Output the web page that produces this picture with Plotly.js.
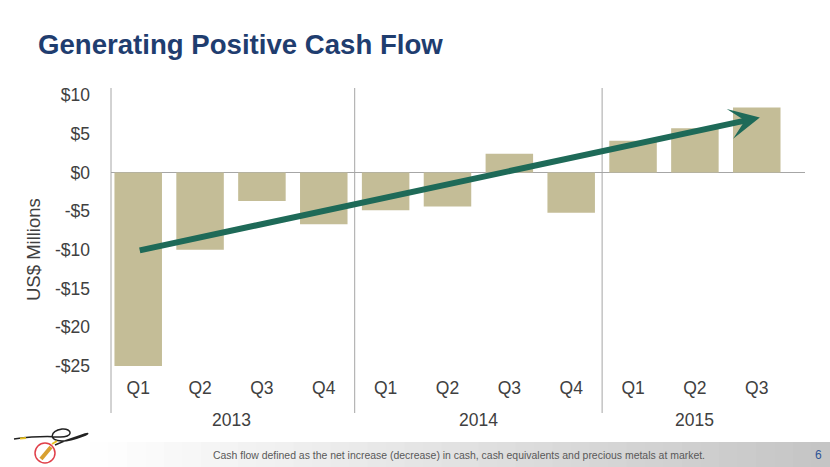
<!DOCTYPE html>
<html>
<head>
<meta charset="utf-8">
<script src="https://cdn.plot.ly/plotly-3.0.1.min.js"></script>
<style>html,body{margin:0;padding:0;background:#fff;}#chart{width:830px;height:467px;}</style>
</head>
<body>
<div id="chart"></div>
<script>
// ---- data ----
const quarters = ['Q1','Q2','Q3','Q4','Q1','Q2','Q3','Q4','Q1','Q2','Q3'];
const cashFlow = [-25.0, -10.0, -3.7, -6.7, -4.9, -4.4, 2.4, -5.2, 4.1, 5.7, 8.4];
const years = ['2013','2014','2015'];
const yearCounts = [4, 4, 3];
const yTickVals = [10, 5, 0, -5, -10, -15, -20, -25];
const yTickText = ['$10','$5','$0','-$5','-$10','-$15','-$20','-$25'];
const trendStart = [0, -10.1];
const trendEnd = [10.05, 7.1];
const titleText = 'Generating Positive Cash Flow';
const yTitle = 'US$ Millions';
const footnote = 'Cash flow defined as the net increase (decrease) in cash, cash equivalents and precious metals at market.';
const pageNum = '6';

// ---- layout helpers ----
const W = 830, H = 467;
const M = {l: 111, r: 25, t: 95, b: 101};
const pw = W - M.l - M.r, ph = H - M.t - M.b;
const px = x => (x - M.l) / pw;
const py = y => (H - M.b - y) / ph;
const FONT = 'Liberation Sans, Arial, sans-serif';
const GRAY = '#a6a6a6';
const TXT = '#404040';
const AXFS = 17.5;

const xIdx = quarters.map((_, i) => i);

// year separators and labels
const shapes = [];
const annotations = [];
let start = 0;
years.forEach((yr, k) => {
  const n = yearCounts[k];
  annotations.push({
    x: start + (n - 1) / 2, xref: 'x', y: py(420), yref: 'paper',
    text: yr, showarrow: false, xanchor: 'center', yanchor: 'middle',
    font: {family: FONT, size: AXFS, color: TXT}
  });
  if (k > 0) {
    shapes.push({type: 'line', xref: 'x', yref: 'paper', x0: start - 0.5, x1: start - 0.5,
      y0: py(88), y1: py(413), line: {color: GRAY, width: 1}});
  }
  start += n;
});
// left axis line
shapes.push({type: 'line', xref: 'paper', yref: 'paper', x0: 0, x1: 0,
  y0: py(88), y1: py(413), line: {color: GRAY, width: 1}});

// footer gradient band
const steps = 40, bx0 = 90, bx1 = 830;
for (let i = 0; i < steps; i++) {
  const t = (i + 0.5) / steps;
  const c = Math.round(255 - t * (255 - 196));
  shapes.push({type: 'rect', xref: 'paper', yref: 'paper', layer: 'below',
    x0: px(bx0 + (bx1 - bx0) * i / steps), x1: px(bx0 + (bx1 - bx0) * (i + 1) / steps + 0.5),
    y0: py(442), y1: py(470), fillcolor: `rgb(${c},${c},${c})`, line: {width: 0}});
}
// logo (approximate): cord with loops and red circle
function pathStr(pts) {
  return pts.map((p, i) => (i === 0 ? 'M' : (p.length === 6 ? 'C' : 'L')) +
    (p.length === 6 ? [px(p[0]) + ',' + py(p[1]), px(p[2]) + ',' + py(p[3]), px(p[4]) + ',' + py(p[5])].join(' ')
                    : px(p[0]) + ',' + py(p[1]))).join(' ');
}
shapes.push({type: 'path', xref: 'paper', yref: 'paper',
  path: pathStr([[14, 439], [30, 437, 45, 436, 58, 437], [75, 438, 72, 428, 62, 429], [50, 431, 48, 441, 62, 441], [75, 441, 95, 431, 85, 434], [78, 437, 70, 438, 55, 445]]),
  line: {color: '#222222', width: 1.5}});
shapes.push({type: 'line', xref: 'paper', yref: 'paper', x0: px(20), x1: px(26), y0: py(438.5), y1: py(438),
  line: {color: '#e8c020', width: 2}});
shapes.push({type: 'line', xref: 'paper', yref: 'paper', x0: px(52), x1: px(57), y0: py(444), y1: py(441),
  line: {color: '#e8c020', width: 2}});
shapes.push({type: 'circle', xref: 'paper', yref: 'paper', x0: px(35), x1: px(55), y0: py(443), y1: py(463),
  line: {color: '#e0404a', width: 1.5}});
shapes.push({type: 'line', xref: 'paper', yref: 'paper', x0: px(41), x1: px(51), y0: py(459), y1: py(447),
  line: {color: '#d8a030', width: 4}});

// texts
annotations.push({x: px(36), y: py(44), xref: 'paper', yref: 'paper', text: titleText, showarrow: false,
  xanchor: 'left', yanchor: 'middle', font: {family: FONT, size: 27.6, color: '#1f3d6f', weight: 'bold'}});
annotations.push({x: px(33), y: py(250), xref: 'paper', yref: 'paper', text: yTitle, showarrow: false,
  textangle: -90, xanchor: 'center', yanchor: 'middle', font: {family: FONT, size: 18.5, color: TXT}});
annotations.push({x: px(211), y: py(455), xref: 'paper', yref: 'paper', text: footnote, showarrow: false,
  xanchor: 'left', yanchor: 'middle', font: {family: FONT, size: 10.45, color: '#595959'}});
annotations.push({x: px(818), y: py(455), xref: 'paper', yref: 'paper', text: pageNum, showarrow: false,
  xanchor: 'center', yanchor: 'middle', font: {family: FONT, size: 12, color: '#2f5597'}});
// trend arrow
annotations.push({x: trendEnd[0], y: trendEnd[1], xref: 'x', yref: 'y',
  ax: trendStart[0], ay: trendStart[1], axref: 'x', ayref: 'y',
  showarrow: true, arrowhead: 3, arrowsize: 0.85, arrowwidth: 6, arrowcolor: '#1e6a58', standoff: 0, text: ''});

const data = [{
  type: 'bar', x: xIdx, y: cashFlow,
  marker: {color: '#c4bd97', line: {width: 0}},
  hoverinfo: 'skip'
}];

const layout = {
  width: W, height: H,
  margin: M,
  paper_bgcolor: '#ffffff', plot_bgcolor: 'rgba(0,0,0,0)',
  showlegend: false,
  bargap: 0.232,
  font: {family: FONT, color: TXT},
  xaxis: {
    range: [-0.44, 10.78], tickvals: xIdx, ticktext: quarters,
    showgrid: false, zeroline: false, showline: false, ticks: '',
    tickfont: {family: FONT, size: AXFS, color: TXT}, ticklabelstandoff: 9,
    fixedrange: true
  },
  yaxis: {
    range: [-25, 10], tickvals: yTickVals, ticktext: yTickText,
    showgrid: false, zeroline: true, zerolinecolor: GRAY, zerolinewidth: 1,
    showline: false, ticks: '',
    tickfont: {family: FONT, size: AXFS, color: TXT}, ticklabelstandoff: 20,
    fixedrange: true
  },
  shapes: shapes,
  annotations: annotations
};

Plotly.newPlot('chart', data, layout, {displayModeBar: false, staticPlot: true});
</script>
</body>
</html>
